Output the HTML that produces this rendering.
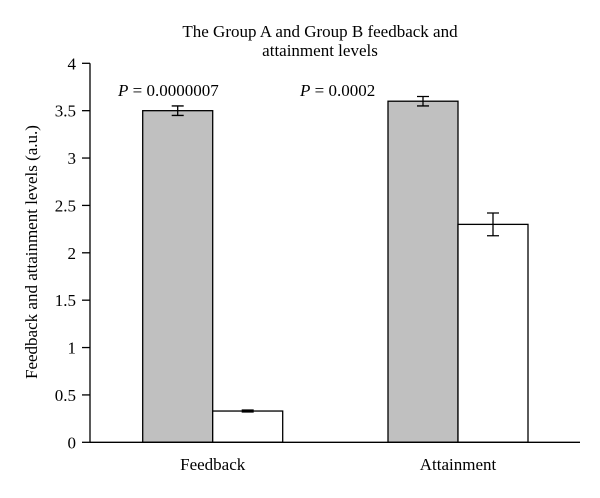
<!DOCTYPE html>
<html><head><meta charset="utf-8"><style>
body{margin:0;background:#fff}
svg text{font-family:"Liberation Serif",serif;fill:#000}
</style></head><body>
<svg width="600" height="493" viewBox="0 0 600 493">
<text x="320" y="37" font-size="17" text-anchor="middle">The Group A and Group B feedback and</text>
<text x="320" y="56" font-size="17" text-anchor="middle">attainment levels</text>
<text transform="translate(37,252) rotate(-90)" font-size="17" text-anchor="middle">Feedback and attainment levels (a.u.)</text>
<g id="plot"></g>
</svg>
<script>
const categories=["Feedback","Attainment"];
const groupA=[3.5,3.6];
const groupB=[0.33,2.3];
const errA=[0.05,0.05];
const errB=[0.01,0.12];
const pLabels=["0.0000007","0.0002"];
const yTicks=[0,0.5,1,1.5,2,2.5,3,3.5,4];
const tickLabels=["0","0.5","1","1.5","2","2.5","3","3.5","4"];
const y0=442.3,yScale=94.75,axisX=90;
const y=v=>y0-v*yScale;
const catX=i=>212.7+i*245.3;
const pX=[118,300];
const NS="http://www.w3.org/2000/svg";
const g=document.getElementById('plot');
function mk(t,a){const e=document.createElementNS(NS,t);for(const k in a)e.setAttribute(k,a[k]);g.appendChild(e);return e;}
yTicks.forEach((v,i)=>{
 const l=mk('line',{x1:82,x2:axisX,y1:y(v),y2:y(v),stroke:'#000','stroke-width':1.3});
 
 
 const t=mk('text',{x:76,y:y(v)+6,'font-size':17,'text-anchor':'end'});t.textContent=tickLabels[i];
 
 
});
categories.forEach((c,i)=>{
 const cx=catX(i),w=70;
 [[groupA,errA,'#c0c0c0',cx-w,'bar-group-a'],[groupB,errB,'#fff',cx,'bar-group-b']].forEach(([vals,errs,fill,x,name])=>{
  const r=mk('rect',{x:x,y:y(vals[i]),width:w,height:y0-y(vals[i]),fill:fill,stroke:'#000','stroke-width':1.3});
  
  
  const ex=x+w/2,hi=y(vals[i]+errs[i]),lo=y(vals[i]-errs[i]);
  const eb=mk('path',{d:`M${ex} ${hi}V${lo}M${ex-6} ${hi}H${ex+6}M${ex-6} ${lo}H${ex+6}`,stroke:'#000','stroke-width':1.3,fill:'none'});
  
  
 });
 const t=mk('text',{x:cx,y:470,'font-size':17,'text-anchor':'middle'});t.textContent=c;
 
 
 const p=mk('text',{x:pX[i],y:96,'font-size':17});
 p.innerHTML='<tspan font-style="italic">P</tspan> = '+pLabels[i];
 
 
});
const ya=mk('line',{x1:axisX,x2:axisX,y1:y(4),y2:y0,stroke:'#000','stroke-width':1.3});


const xa=mk('line',{x1:axisX,x2:580,y1:y0,y2:y0,stroke:'#000','stroke-width':1.3});


</script>
</body></html>
